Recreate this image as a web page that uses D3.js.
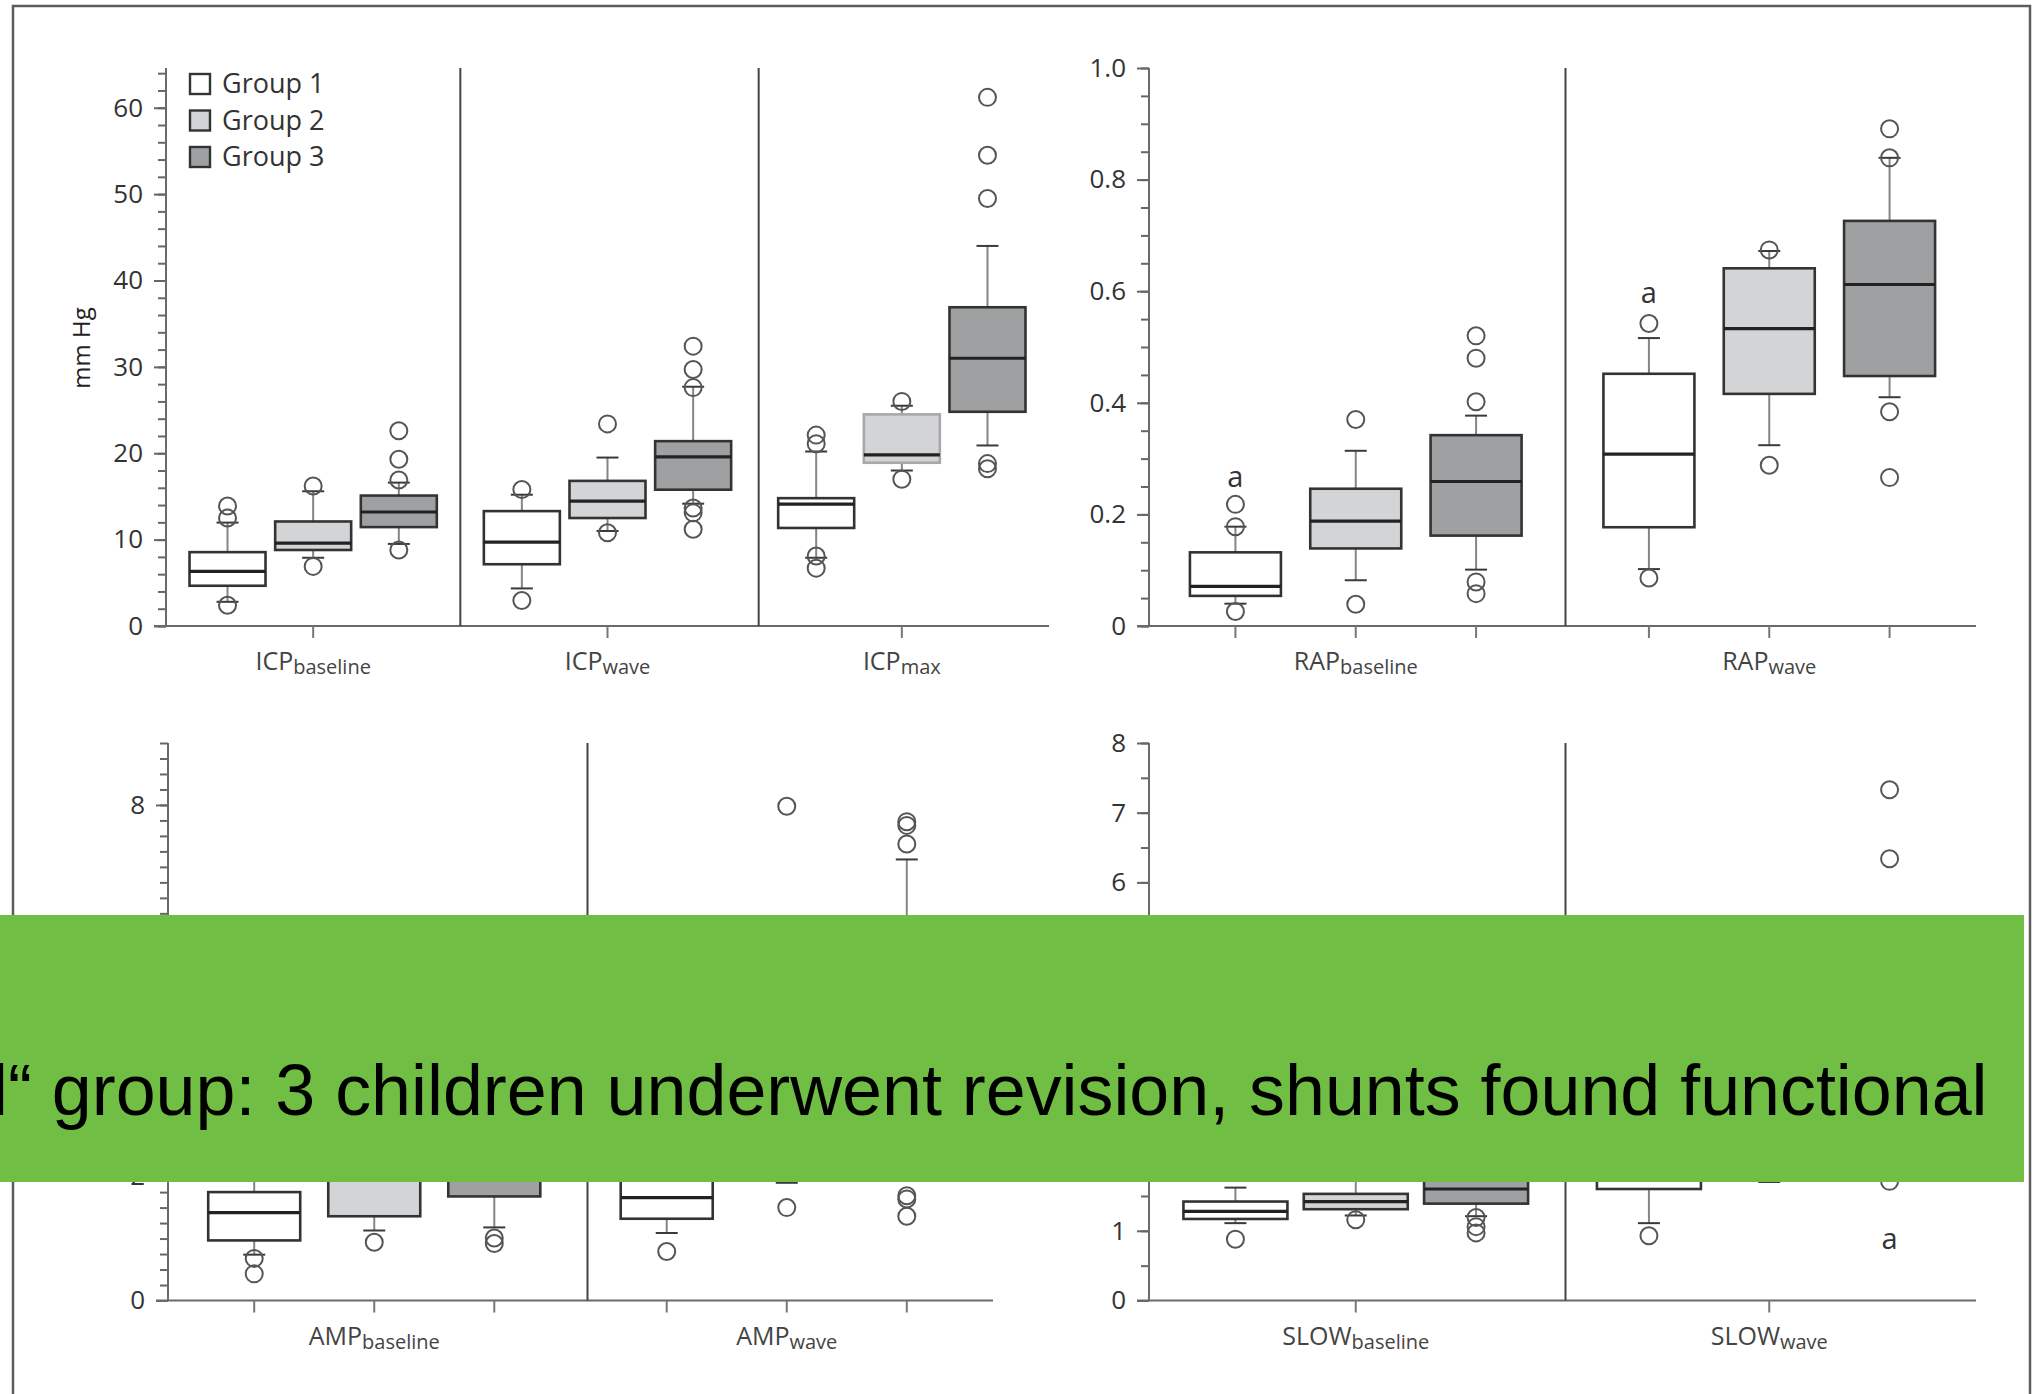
<!DOCTYPE html>
<html>
<head>
<meta charset="utf-8">
<script src="https://cdn.jsdelivr.net/npm/d3@7"></script>
<style>
  html, body { margin: 0; padding: 0; background: #fff; }
  svg { display: block; }
</style>
</head>
<body>
<svg id="chart" width="2036" height="1394"></svg>
<script>
// ---------------- DATA ----------------
const groups = ["Group 1", "Group 2", "Group 3"];

// each box: [lower whisker, Q1, median, Q3, upper whisker]
const icpCategories = ["baseline", "wave", "max"];
const icpBoxes = {
  baseline: [[2.8, 4.66, 6.32, 8.55, 11.97], [7.9, 8.8, 9.6, 12.1, 15.6], [9.5, 11.45, 13.2, 15.1, 16.6]],
  wave:     [[4.35, 7.15, 9.7, 13.3, 15.2], [11.0, 12.5, 14.45, 16.8, 19.5], [14.16, 15.78, 19.58, 21.4, 27.7]],
  max:      [[7.9, 11.35, 14.1, 14.8, 20.2], [18.0, 18.9, 19.8, 24.5, 25.5], [20.9, 24.8, 31.0, 36.9, 44.0]]
};
const icpOutliers = {
  baseline: [[13.9, 12.5, 2.4], [16.2, 6.9], [22.6, 19.3, 16.9, 8.8]],
  wave:     [[15.8, 2.95], [23.4, 10.8], [32.4, 29.7, 27.6, 13.66, 13.1, 11.2]],
  max:      [[22.1, 21.1, 8.1, 6.7], [26.0, 17.0], [61.2, 54.5, 49.5, 18.8, 18.2]]
};

const rapCategories = ["baseline", "wave"];
const rapBoxes = {
  baseline: [[0.04, 0.054, 0.071, 0.132, 0.178], [0.082, 0.139, 0.188, 0.246, 0.314], [0.101, 0.162, 0.259, 0.342, 0.377]],
  wave:     [[0.102, 0.177, 0.308, 0.452, 0.516], [0.324, 0.416, 0.533, 0.641, 0.672], [0.41, 0.448, 0.612, 0.726, 0.839]]
};
const rapOutliers = {
  baseline: [[0.218, 0.178, 0.026], [0.37, 0.039], [0.52, 0.48, 0.402, 0.079, 0.058]],
  wave:     [[0.542, 0.086], [0.674, 0.288], [0.891, 0.839, 0.384, 0.266]]
};

const ampCategories = ["baseline", "wave"];
const ampBoxes = {
  baseline: [[0.74, 0.97, 1.42, 1.75, 2.5], [1.13, 1.36, 2.0, 2.6, 3.4], [1.18, 1.68, 2.3, 3.0, 4.0]],
  wave:     [[1.09, 1.32, 1.66, 2.2, 2.8], [1.9, 2.3, 3.0, 3.8, 5.0], [2.0, 2.6, 3.6, 4.8, 7.12]]
};
const ampOutliers = {
  baseline: [[0.68, 0.43], [0.94], [1.01, 0.92]],
  wave:     [[0.79], [7.98, 1.5], [7.73, 7.67, 7.37, 1.69, 1.64, 1.36]]
};

const slowCategories = ["baseline", "wave"];
const slowBoxes = {
  baseline: [[1.11, 1.17, 1.28, 1.42, 1.62], [1.22, 1.31, 1.42, 1.53, 1.95], [1.21, 1.39, 1.6, 1.95, 2.6]],
  wave:     [[1.11, 1.6, 2.2, 2.9, 3.8], [1.70, 2.4, 3.0, 3.8, 4.6], [1.9, 2.4, 3.3, 4.2, 5.0]]
};
const slowOutliers = {
  baseline: [[0.88], [1.16], [1.19, 1.06, 0.97]],
  wave:     [[0.93], [], [7.33, 6.34, 1.71]]
};

// significance marks: [category, group index, value]
const rapMarks = [["baseline", 0, 0.25], ["wave", 0, 0.578]];
const slowMarks = [["wave", 2, 0.74]];

const icpTicks = [0, 10, 20, 30, 40, 50, 60];
const rapTicks = [0, 0.2, 0.4, 0.6, 0.8, 1.0];
const ampTicks = [0, 2, 4, 6, 8];
const slowTicks = [0, 1, 2, 3, 4, 5, 6, 7, 8];

const bannerText = "l\u201C group: 3 children underwent revision, shunts found functional";

// ---------------- STYLE ----------------
const fills = ["#ffffff", "#d3d4d6", "#9fa0a2"];
const FONT = "'Open Sans', sans-serif";
const svg = d3.select("#chart");

// frame
svg.append("rect").attr("x", 13).attr("y", 6).attr("width", 2017).attr("height", 1420)
  .attr("fill", "none").attr("stroke", "#5c5c5c").attr("stroke-width", 2.5);

function drawPanel(p) {
  const g = svg.append("g");
  const x = d3.scaleBand().domain(p.categories).range([p.x0, p.x1]);
  const y = d3.scaleLinear().domain([0, p.yMax]).range([p.y0, p.yTop]);
  const off = x.bandwidth() * 0.291;
  const cx = (c, i) => x(c) + x.bandwidth() / 2 + (i - 1) * off;

  // minor ticks
  const minor = d3.range(0, p.yMax + 1e-9, p.minorStep);
  g.append("g").attr("transform", `translate(${p.x0},0)`)
    .call(d3.axisLeft(y).tickValues(minor).tickSize(8).tickFormat("").tickSizeOuter(0))
    .call(s => s.select(".domain").remove())
    .call(s => s.selectAll("line").attr("stroke", "#666").attr("stroke-width", 2));
  // major ticks + labels
  g.append("g").attr("transform", `translate(${p.x0},0)`)
    .call(d3.axisLeft(y).tickValues(p.ticks).tickSize(12).tickPadding(11).tickFormat(p.fmt).tickSizeOuter(0))
    .call(s => s.select(".domain").remove())
    .call(s => s.selectAll("line").attr("stroke", "#666").attr("stroke-width", 2))
    .call(s => s.selectAll("text").attr("font-family", FONT).attr("font-size", 26).attr("fill", "#333"));
  // y axis line
  g.append("line").attr("x1", p.x0).attr("x2", p.x0).attr("y1", y(0)).attr("y2", y(p.yMax))
    .attr("stroke", "#6a6a6a").attr("stroke-width", 2);
  // x axis line
  g.append("line").attr("x1", p.x0 - 12).attr("x2", p.x1).attr("y1", y(0)).attr("y2", y(0))
    .attr("stroke", "#6a6a6a").attr("stroke-width", 2);

  // dividers
  p.categories.slice(1).forEach((c, i) => {
    const dx = x(c) + (p.dividerShift[i] || 0);
    g.append("line").attr("x1", dx).attr("x2", dx).attr("y1", y(0)).attr("y2", y(p.yMax))
      .attr("stroke", "#444").attr("stroke-width", 2);
  });

  // x ticks
  const xt = [];
  p.categories.forEach(c => {
    if (p.groupTicks) groups.forEach((_, i) => xt.push(cx(c, i)));
    else xt.push(cx(c, 1));
  });
  g.selectAll(".xt").data(xt).join("line")
    .attr("x1", d => d).attr("x2", d => d).attr("y1", y(0)).attr("y2", y(0) + 12)
    .attr("stroke", "#777").attr("stroke-width", 2);

  // x labels
  p.categories.forEach(c => {
    const t = g.append("text").attr("x", cx(c, 1)).attr("y", y(0) + 44)
      .attr("text-anchor", "middle").attr("font-family", FONT).attr("font-size", 25).attr("fill", "#444");
    t.append("tspan").text(p.name);
    t.append("tspan").attr("font-size", 20).attr("dy", 4).text(c);
  });

  // boxes
  p.categories.forEach(c => {
    p.boxes[c].forEach((b, i) => {
      const xc = cx(c, i), w = p.boxW, cw = 22;
      const [lo, q1, md, q3, hi] = b;
      // whiskers
      g.append("line").attr("x1", xc).attr("x2", xc).attr("y1", y(q3)).attr("y2", y(hi))
        .attr("stroke", "#858585").attr("stroke-width", 2);
      g.append("line").attr("x1", xc).attr("x2", xc).attr("y1", y(q1)).attr("y2", y(lo))
        .attr("stroke", "#858585").attr("stroke-width", 2);
      [lo, hi].forEach(v => g.append("line").attr("x1", xc - cw / 2).attr("x2", xc + cw / 2)
        .attr("y1", y(v)).attr("y2", y(v)).attr("stroke", "#3a3a3a").attr("stroke-width", 2));
      const light = p.lightBox && p.lightBox[0] === c && p.lightBox[1] === i;
      g.append("rect").attr("x", xc - w / 2).attr("y", y(q3)).attr("width", w).attr("height", y(q1) - y(q3))
        .attr("fill", fills[i]).attr("stroke", light ? "#a8a8a8" : "#333").attr("stroke-width", 2.6);
      g.append("line").attr("x1", xc - w / 2).attr("x2", xc + w / 2).attr("y1", y(md)).attr("y2", y(md))
        .attr("stroke", "#222").attr("stroke-width", 3.2);
      // outliers
      g.selectAll(null).data(p.outliers[c][i]).join("circle")
        .attr("cx", xc).attr("cy", d => y(d)).attr("r", 8.5)
        .attr("fill", "none").attr("stroke", "#555").attr("stroke-width", 2);
    });
  });

  // significance marks
  (p.marks || []).forEach(([c, i, v]) => {
    g.append("text").attr("x", cx(c, i)).attr("y", y(v)).attr("text-anchor", "middle")
      .attr("font-family", FONT).attr("font-size", 29).attr("fill", "#333").text("a");
  });
  return { g, x, y };
}

drawPanel({
  name: "ICP", categories: icpCategories, boxes: icpBoxes, outliers: icpOutliers,
  x0: 166, x1: 1049, y0: 626, yTop: 68, yMax: 64.6, ticks: icpTicks, minorStep: 2,
  fmt: d3.format("d"), boxW: 76, groupTicks: false, dividerShift: [0, 4], lightBox: ["max", 1]
});
drawPanel({
  name: "RAP", categories: rapCategories, boxes: rapBoxes, outliers: rapOutliers, marks: rapMarks,
  x0: 1149, x1: 1976, y0: 626, yTop: 68, yMax: 1.0, ticks: rapTicks, minorStep: 0.05,
  fmt: d => d === 0 ? "0" : d3.format(".1f")(d), boxW: 91, groupTicks: true, dividerShift: [3]
});
drawPanel({
  name: "AMP", categories: ampCategories, boxes: ampBoxes, outliers: ampOutliers,
  x0: 168, x1: 993, y0: 1300.5, yTop: 743, yMax: 9, ticks: ampTicks, minorStep: 0.25,
  fmt: d3.format("d"), boxW: 92, groupTicks: true, dividerShift: [7]
});
drawPanel({
  name: "SLOW", categories: slowCategories, boxes: slowBoxes, outliers: slowOutliers, marks: slowMarks,
  x0: 1149, x1: 1976, y0: 1300.5, yTop: 743, yMax: 8, ticks: slowTicks, minorStep: 0.5,
  fmt: d3.format("d"), boxW: 104, groupTicks: false, dividerShift: [3]
});

// y axis title
svg.append("text").attr("transform", "translate(90,348) rotate(-90)").attr("text-anchor", "middle")
  .attr("font-family", FONT).attr("font-size", 24).attr("fill", "#222").text("mm Hg");

// legend
const leg = svg.append("g").attr("transform", "translate(190,74)");
groups.forEach((gname, i) => {
  leg.append("rect").attr("x", 0).attr("y", i * 36.5).attr("width", 20).attr("height", 20)
    .attr("fill", fills[i]).attr("stroke", "#333").attr("stroke-width", 2.4);
  leg.append("text").attr("x", 32).attr("y", i * 36.5 + 19).attr("font-family", FONT)
    .attr("font-size", 27).attr("fill", "#333").text(gname);
});

// green banner overlay
svg.append("rect").attr("x", 0).attr("y", 915).attr("width", 2024).attr("height", 267).attr("fill", "#70bf44");
svg.append("text").attr("x", -8).attr("y", 1115).attr("font-family", "'Liberation Sans', Arial, sans-serif")
  .attr("font-size", 71.8).attr("fill", "#000").text(bannerText);
</script>
</body>
</html>
